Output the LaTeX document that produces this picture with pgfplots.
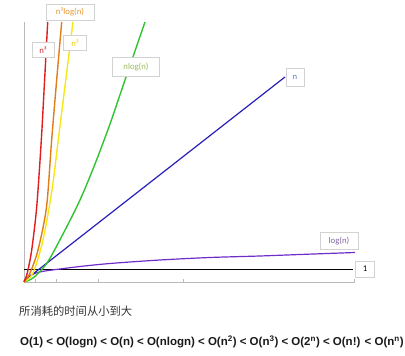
\documentclass[border=0pt]{standalone}
\usepackage{pgfplots}
\pgfplotsset{compat=1.18}
\usepackage{fontspec}
\setmainfont{Liberation Sans}
\newfontfamily\cjk{Noto Sans CJK SC}
\newfontfamily\lblfont{Carlito}
\definecolor{cred}{RGB}{225,30,30}
\definecolor{corange}{RGB}{222,125,25}
\definecolor{cyellow}{RGB}{248,230,20}
\definecolor{cgreen}{RGB}{50,195,50}
\definecolor{cblue}{RGB}{40,30,185}
\definecolor{cpurple}{RGB}{110,45,200}
\definecolor{tred}{RGB}{190,40,42}
\definecolor{torange}{RGB}{232,150,46}
\definecolor{tyellow}{RGB}{238,205,0}
\definecolor{tgreen}{RGB}{155,187,89}
\definecolor{tblue}{RGB}{79,129,189}
\definecolor{tpurple}{RGB}{128,100,162}
\tikzset{lbl/.style={draw=gray!35, fill=white, line width=0.6pt, inner sep=0pt,
     font=\lblfont\fontsize{8.7}{10}\selectfont}}
\begin{document}
\begin{tikzpicture}
\path[use as bounding box] (0,0) rectangle (405pt,356pt);
\begin{axis}[
  at={(24pt,74pt)}, anchor=south west,
  width=331pt, height=260pt, scale only axis,
  xmin=24, xmax=355, ymin=0, ymax=260,
  axis x line=bottom, axis y line=left,
  axis line style={draw=gray!55, line width=0.8pt, -},
  xtick={35,56,98,183,354}, xticklabels={},
  ytick=\empty,
  tick align=inside, major tick length=3pt,
  tick style={gray!55, line width=0.6pt},
  clip=false,
]
% constant 1
\addplot[no marks, black, line width=1pt] coordinates {(24,12.5) (353,12.5)};
% log(n)
\addplot[no marks, smooth, cpurple, line width=1.2pt] coordinates {
(24,0) (27,4) (30,6.5) (36,9) (45,11) (60,13) (80,15.5) (110,18.5) (160,22) (210,24.5) (260,26) (300,27.5) (355,29.5)};
% n
\addplot[no marks, cblue, line width=1.2pt] coordinates {(24,1) (285,205)};
% n log n
\addplot[no marks, smooth, cgreen, line width=1.4pt] coordinates {
(24,0) (33,4) (47,19) (63,48) (80,82) (95,118) (110,158) (125,202) (145,260)};
% n^2
\addplot[no marks, smooth, cyellow, line width=1.4pt] coordinates {
(24,0) (33,9) (43,42) (52,92) (58,140) (65.5,200) (73,260)};
% n^2 log n
\addplot[no marks, smooth, corange, line width=1.4pt] coordinates {
(24,0) (30,9) (38,32) (46.5,75) (51.5,140) (56.5,200) (61.7,260)};
% n^3
\addplot[no marks, smooth, cred, line width=1.4pt] coordinates {
(24,0) (27.3,9) (31.7,32) (36.7,75) (41.2,140) (44.5,200) (47.7,260)};
% labels
\node[lbl, text=tred, minimum width=22pt, minimum height=15pt] at (axis cs:43,232) {n³};
\node[lbl, text=torange, minimum width=48pt, minimum height=16pt] at (axis cs:70,270) {n²log(n)};
\node[lbl, text=tyellow, minimum width=23pt, minimum height=15pt] at (axis cs:75,239) {n²};
\node[lbl, text=tgreen, minimum width=47pt, minimum height=19pt] at (axis cs:136,215) {nlog(n)};
\node[lbl, text=tblue, minimum width=18pt, minimum height=18pt] at (axis cs:295,204.5) {n};
\node[lbl, text=tpurple, minimum width=38pt, minimum height=17pt] at (axis cs:339,41) {log(n)};
\node[lbl, text=black, minimum width=19pt, minimum height=16pt] at (axis cs:365,13) {1};
\end{axis}
\node[anchor=base west, inner sep=0pt, text=black!80, font=\cjk\fontsize{11.3}{13}\selectfont] at (19pt,40pt) {所消耗的时间从小到大};
\node[anchor=base west, inner sep=0pt, text=black!90, font=\bfseries\fontsize{11.5}{13}\selectfont] at (20pt,10pt)
 {O(1) < O(logn) < O(n) < O(nlogn) < O(n\textsuperscript{2}) < O(n\textsuperscript{3}) < O(2\textsuperscript{n}) < O(n!) < O(n\textsuperscript{n})};
\end{tikzpicture}
\end{document}
